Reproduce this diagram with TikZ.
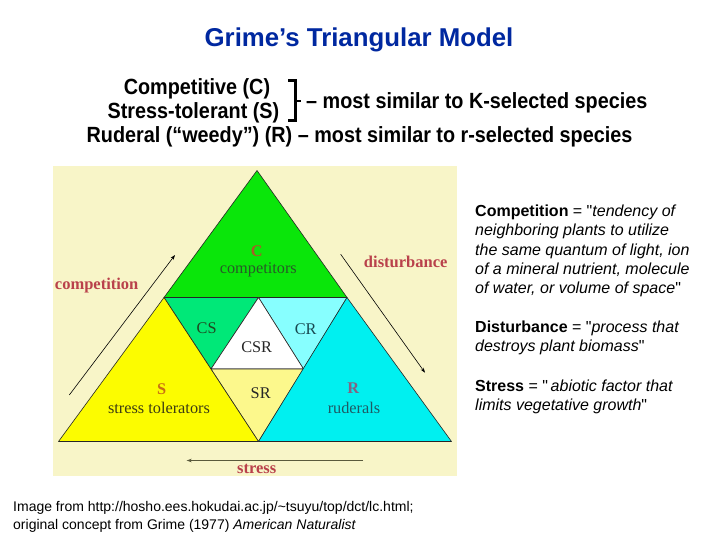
\documentclass[tikz,border=0pt]{standalone}
\usepackage{fontspec}
\setmainfont{Liberation Serif}
\newfontfamily\arial{Liberation Sans}
\newfontfamily\arialN[FakeStretch=0.9]{Liberation Sans}
\usetikzlibrary{arrows.meta}
\definecolor{titleblue}{RGB}{0,40,160}
\definecolor{panelbg}{RGB}{248,245,200}
\definecolor{cgreen}{RGB}{10,230,10}
\definecolor{csgreen}{RGB}{0,232,120}
\definecolor{crcyan}{RGB}{135,255,255}
\definecolor{rcyan}{RGB}{0,240,240}
\definecolor{syellow}{RGB}{252,252,0}
\definecolor{sryellow}{RGB}{252,248,140}
\definecolor{lblred}{RGB}{185,65,75}
\definecolor{ccol}{RGB}{170,90,40}
\definecolor{compcol}{RGB}{40,90,40}
\definecolor{scol}{RGB}{200,110,20}
\definecolor{stolcol}{RGB}{60,60,20}
\definecolor{rcol}{RGB}{130,100,130}
\definecolor{rudcol}{RGB}{30,90,100}
\definecolor{stressline}{RGB}{90,90,60}
\tikzset{
  region/.style={draw=black!85, line width=0.6pt, line join=round},
  tri/.style={font=\fontsize{16.3}{18}\selectfont, inner sep=0pt},
  tribold/.style={font=\bfseries\fontsize{16.3}{18}\selectfont, inner sep=0pt},
  axislbl/.style={font=\bfseries\fontsize{16.5}{18}\selectfont, text=lblred, inner sep=0pt},
  arr/.style={line width=0.6pt, -{Stealth[length=5pt,width=3.5pt]}},
  sub/.style={font=\arialN\bfseries\fontsize{22}{26}\selectfont, inner sep=0pt},
  defn/.style={font=\arial\fontsize{16}{19}\selectfont, anchor=base west, inner sep=0pt},
  foot/.style={font=\arial\fontsize{14}{17}\selectfont, anchor=base west, inner sep=0pt}
}
\begin{document}
\begin{tikzpicture}[x=1pt,y=-1pt]
\useasboundingbox (0,0) rectangle (720,540);
\fill[white] (0,0) rectangle (720,540);

% title
\node[font=\arial\bfseries\fontsize{25.8}{30}\selectfont, text=titleblue, anchor=base, inner sep=0pt] (title) at (359,46.5) {Grime’s Triangular Model};

% subtitle
\node[sub, anchor=base] (compC) at (197,94.3) {Competitive (C)};
\node[sub, anchor=base] (stressS) at (193.5,118.3) {Stress-tolerant (S)};
\draw[line width=3pt] (288,81) -- (295,81) -- (295,121) -- (288,121);
\draw[line width=2pt] (295,101) -- (301,101);
\node[sub, anchor=base west] (kline) at (306,108.5) {– most similar to K-selected species};
\node[sub, anchor=base] (rline) at (359.5,143) {Ruderal (“weedy”) (R) – most similar to r-selected species};

% panel
\fill[panelbg] (53,166.5) rectangle (457,476);

\coordinate (A) at (257,170.5);
\coordinate (L) at (58.5,441.5);
\coordinate (R) at (451.5,441.5);
\coordinate (B) at (258.5,441.5);
\coordinate (ML) at (164,297.5);
\coordinate (MR) at (347,297.5);
\coordinate (MT) at (258.5,297.5);
\coordinate (IL) at (211,369);
\coordinate (IR) at (303.5,369);

\filldraw[region, fill=cgreen] (A) -- (ML) -- (MR) -- cycle;
\filldraw[region, fill=csgreen] (ML) -- (MT) -- (IL) -- cycle;
\filldraw[region, fill=crcyan] (MT) -- (MR) -- (IR) -- cycle;
\filldraw[region, fill=white] (MT) -- (IL) -- (IR) -- cycle;
\filldraw[region, fill=sryellow] (IL) -- (IR) -- (B) -- cycle;
\filldraw[region, fill=syellow] (ML) -- (L) -- (B) -- cycle;
\filldraw[region, fill=rcyan] (MR) -- (B) -- (R) -- cycle;

% labels in triangle
\node[tribold, text=ccol] (lC) at (256.7,250.7) {C};
\node[tri, text=compcol] (lcomp) at (258.3,270) {competitors};
\node[tri, text=compcol!80!black] (lCS) at (206.7,328.3) {CS};
\node[tri, text=rudcol!80!black] (lCR) at (305.7,329.3) {CR};
\node[tri, text=black!85] (lCSR) at (256.7,346.7) {CSR};
\node[tribold, text=scol] (lS) at (161.7,389.3) {S};
\node[tri, text=stolcol] (lstol) at (159,408.3) {stress tolerators};
\node[tri, text=black!85] (lSR) at (260.7,393.3) {SR};
\node[tribold, text=rcol] (lR) at (353.3,388.3) {R};
\node[tri, text=rudcol] (lrud) at (354,408.3) {ruderals};

% axes
\node[axislbl] (competition) at (96.7,286) {competition};
\node[axislbl] (disturbance) at (405.7,261.7) {disturbance};
\node[axislbl] (stress) at (256.7,469.3) {stress};

\coordinate (c1) at (69.3,395);
\coordinate (c2) at (175,255);
\coordinate (d1) at (340.7,254.3);
\coordinate (d2) at (425,372.7);
\coordinate (s1) at (363,460.5);
\coordinate (s2) at (186.7,460.5);
\draw[arr] (c1) -- (c2);
\draw[arr] (d1) -- (d2);
\draw[arr, draw=stressline] (s1) -- (s2);

% definitions
\node[defn] (d1l1) at (475,216.5) {\textbf{Competition} = "\textit{tendency of}};
\node[defn] (d1l2) at (475,236) {\textit{neighboring plants to utilize}};
\node[defn] (d1l3) at (475,255.2) {\textit{the same quantum of light, ion}};
\node[defn] (d1l4) at (475,274.5) {\textit{of a mineral nutrient, molecule}};
\node[defn] (d1l5) at (475,293.7) {\textit{of water, or volume of space}"};
\node[defn] (d2l1) at (475,332.7) {\textbf{Disturbance} = "\textit{process that}};
\node[defn] (d2l2) at (475,351.7) {\textit{destroys plant biomass}"};
\node[defn] (d3l1) at (475,391) {\textbf{Stress} = "\,\textit{abiotic factor that}};
\node[defn] (d3l2) at (475,410) {\textit{limits vegetative growth}"};

% footer
\node[foot] (f1) at (13,511.7) {Image from http://hosho.ees.hokudai.ac.jp/\string~tsuyu/top/dct/lc.html;};
\node[foot] (f2) at (13,529) {original concept from Grime (1977) \textit{American Naturalist}};
\end{tikzpicture}
\end{document}
